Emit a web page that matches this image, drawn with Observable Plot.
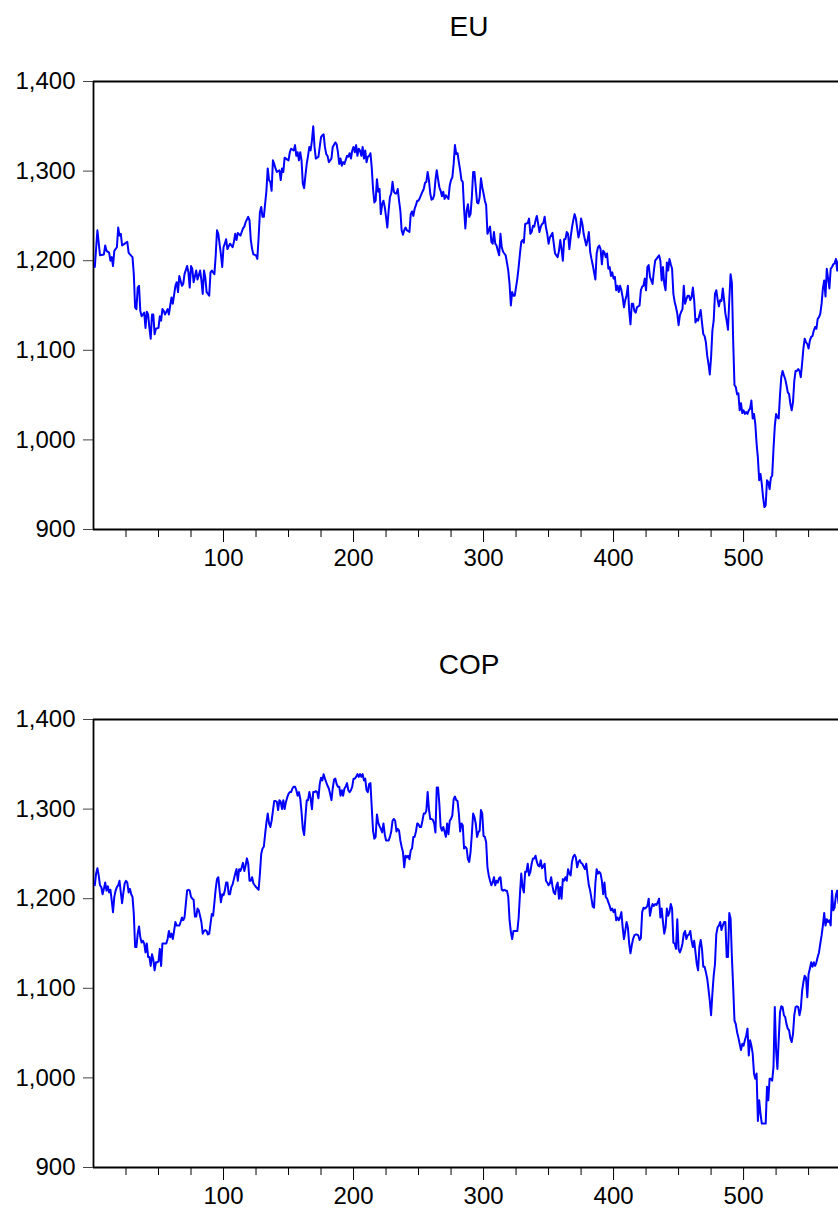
<!DOCTYPE html>
<html>
<head>
<meta charset="utf-8">
<script src="https://cdn.jsdelivr.net/npm/d3@7"></script>
<script src="https://cdn.jsdelivr.net/npm/@observablehq/plot@0.6"></script>
<style>
  html, body { margin: 0; padding: 0; background: #fff; overflow: hidden; }
  #chart svg { display: block; }
</style>
</head>
<body>
<div id="chart"></div>
<script>
// Panel titles
const titles = ["EU", "COP"];

// Axis ticks
const yTicks = [900, 1000, 1100, 1200, 1300, 1400];
const xMajorTicks = [100, 200, 300, 400, 500];
const xMinorTicks = [25, 50, 75, 125, 150, 175, 225, 250, 275, 325, 350, 375, 425, 450, 475, 525, 550];

// EU series: observation number and value
const euObs = [1,3,5,8,9,10,12,13,14,15,16,18,19,20,21,22,24,26,27,28,30,31,32,33,34,35,36,37,39,40,41,42,43,44,45,46,47,48,50,51,52,53,54,55,57,58,59,60,61,63,64,65,66,68,69,70,72,73,74,75,76,77,79,80,82,83,84,85,86,87,89,90,91,93,94,95,96,98,99,100,101,102,103,
105,107,108,109,110,111,113,114,115,116,117,119,120,121,122,123,125,126,127,128,129,130,131,133,134,135,136,137,138,139,140,141,143,144,145,146,147,148,150,151,152,154,155,156,157,158,159,160,161,162,163,164,165,166,167,168,169,170,171,173,174,175,176,177,178,179,180,181,182,183,184,186,187,188,189,190,191,192,193,195,196,197,198,199,200,201,202,203,204,205,206,207,208,209,210,211,212,213,214,215,216,
217,218,219,220,221,222,223,224,225,226,227,228,229,230,231,232,233,234,235,236,237,238,239,240,241,243,244,245,246,247,248,249,250,251,253,254,255,256,257,258,259,260,261,262,263,264,265,266,267,268,269,270,271,273,274,275,276,277,278,279,280,281,282,283,284,285,286,287,288,289,290,291,292,293,294,295,296,297,298,299,300,301,302,303,304,305,306,307,308,309,310,311,312,313,314,315,316,317,318,319,320,321,322,323,324,326,327,328,
329,330,331,332,334,335,336,337,338,339,340,341,342,343,344,345,346,347,348,349,350,351,353,354,355,356,357,358,359,360,361,362,363,364,365,366,367,368,369,370,371,373,374,375,376,377,378,379,380,381,382,383,384,385,386,387,388,389,390,391,392,393,394,395,396,397,398,399,400,401,402,403,404,405,406,407,408,409,410,411,412,413,414,415,416,417,418,419,420,421,422,423,424,425,426,427,428,429,430,431,432,433,434,435,436,437,438,439,440,441,442,443,
444,445,446,447,448,449,450,451,452,453,454,455,456,457,458,459,460,461,462,463,464,465,466,467,468,469,470,471,472,473,474,475,476,477,478,479,480,481,482,483,484,485,486,487,488,489,490,491,492,493,494,495,496,497,498,499,500,501,502,503,504,505,506,507,508,509,510,511,512,513,514,515,516,517,518,519,520,521,522,523,524,525,526,527,528,529,530,531,532,533,534,535,536,537,538,539,540,541,542,543,544,545,546,547,548,549,550,551,552,553,554,555,556,557,558,559,560,561,562,563,564,565,566,567,568,569,570,571,572,573];
const euValue = [1193,1234,1206,1207,1217,1211,1209,1200,1204,1194,1211,1215,1237,1228,1230,1217,1219,1221,1209,1207,1204,1185,1148,1146,1170,1172,1144,1138,1142,1125,1143,1140,1125,1113,1140,1140,1118,1124,1125,1138,1133,1146,1144,1140,1146,1140,1150,1159,1152,1172,1176,1165,1183,1172,1174,1185,1194,1187,1170,1194,1191,1176,1189,1179,1189,1178,1163,1189,1181,1165,1161,1187,1189,1185,1206,1234,1230,1207,1193,1215,1219,1224,1213,
1219,1215,1221,1230,1223,1231,1228,1232,1236,1238,1243,1249,1245,1223,1213,1207,1206,1202,1226,1254,1260,1249,1249,1278,1303,1290,1288,1278,1312,1308,1303,1299,1301,1290,1303,1299,1315,1314,1312,1321,1325,1323,1329,1317,1321,1312,1321,1312,1286,1281,1295,1308,1317,1327,1323,1334,1350,1327,1314,1316,1327,1338,1340,1341,1327,1319,1317,1310,1312,1314,1327,1332,1330,1321,1308,1314,1306,1310,1308,1317,1316,1320,1314,1323,1327,1321,1329,1317,1325,1323,1317,1327,1314,1323,1310,1316,1317,1320,1304,1280,1265,
1267,1291,1277,1280,1252,1263,1267,1260,1249,1237,1256,1271,1275,1288,1277,1275,1275,1280,1267,1256,1234,1229,1234,1237,1234,1232,1252,1255,1250,1258,1262,1267,1267,1270,1277,1280,1287,1288,1299,1290,1275,1268,1269,1273,1290,1301,1291,1282,1278,1272,1277,1269,1273,1269,1284,1290,1293,1308,1329,1319,1320,1310,1301,1290,1288,1258,1236,1256,1263,1249,1252,1271,1299,1299,1282,1265,1264,1271,1292,1282,1275,1267,1262,1230,1234,1238,1221,1219,1232,1219,1217,1211,1206,1230,1215,1210,1208,1206,1198,1189,1174,1150,1165,1161,1161,1180,1193,1208,
1221,1223,1220,1241,1242,1247,1230,1232,1239,1238,1245,1250,1241,1232,1238,1241,1242,1249,1237,1230,1219,1226,1231,1219,1208,1206,1204,1211,1223,1213,1200,1224,1224,1232,1230,1213,1226,1237,1245,1252,1247,1226,1232,1247,1241,1230,1223,1217,1223,1232,1210,1202,1195,1187,1179,1208,1215,1217,1213,1196,1211,1209,1204,1208,1191,1193,1183,1187,1180,1182,1167,1172,1165,1172,1167,1159,1148,1156,1161,1172,1144,1129,1152,1152,1144,1142,1148,1149,1150,1167,1171,1172,1180,1167,1193,1195,1182,1178,1174,1189,1200,1202,1204,1206,1200,1178,1193,1174,1167,1198,1189,1202,
1196,1191,1163,1154,1148,1141,1128,1139,1143,1146,1172,1152,1157,1161,1161,1156,1159,1170,1156,1131,1135,1133,1139,1145,1131,1118,1116,1109,1094,1085,1073,1092,1122,1133,1163,1167,1157,1149,1156,1155,1169,1156,1141,1133,1123,1156,1185,1175,1110,1061,1059,1051,1052,1033,1041,1030,1033,1029,1031,1029,1033,1035,1044,1024,1029,1018,996,980,955,962,951,936,925,927,955,953,945,958,960,990,1015,1029,1025,1024,1050,1070,1077,1072,1068,1061,1053,1051,1040,1033,1042,1066,1077,1077,1079,1077,1070,1085,1102,1113,1109,1107,1102,1111,1115,1116,1122,1126,1124,1135,1137,1141,1152,1169,1178,1160,1191,1180,1169,1191,1193,1196,1197,1202,1189,1200];

// COP series: observation number and value
const copObs = [1,2,3,4,5,6,7,8,9,10,11,12,13,14,15,16,17,18,19,20,21,22,23,24,25,26,27,28,29,30,31,32,33,34,35,36,37,38,39,40,41,42,43,44,45,46,47,48,49,50,51,52,53,54,55,56,57,58,59,60,61,62,63,64,65,66,67,68,69,70,71,72,73,74,75,76,77,78,79,80,81,83,84,85,86,87,88,89,90,91,92,93,94,95,96,97,98,99,100,101,102,103,104,
105,106,107,109,110,111,112,113,114,115,116,117,118,119,120,121,122,123,124,125,127,128,129,130,131,132,133,134,135,136,137,138,139,140,141,142,143,144,145,146,147,148,149,150,151,152,153,154,155,156,157,158,159,160,161,162,163,164,165,166,167,168,169,170,171,172,173,174,175,176,177,178,179,180,181,182,183,184,185,186,187,188,189,190,191,192,193,194,195,196,197,198,199,200,201,202,203,204,205,206,207,208,209,210,211,212,213,214,215,216,
217,218,219,220,221,222,223,224,225,226,227,228,229,230,231,232,233,234,235,236,237,238,239,240,241,242,243,244,245,246,247,248,249,250,251,252,253,254,255,256,257,258,259,260,261,262,263,264,265,266,267,268,269,270,271,272,273,274,275,276,277,278,279,280,281,282,283,284,285,286,287,288,289,290,291,292,293,294,295,296,297,298,299,300,301,302,303,304,305,306,307,308,309,310,311,312,313,314,315,316,317,318,319,320,321,322,323,324,325,326,327,328,
329,330,331,332,333,334,335,336,337,338,339,340,341,342,343,344,345,346,347,348,349,350,351,352,353,354,355,356,357,358,359,360,361,362,363,364,365,366,367,368,369,370,371,372,373,374,375,376,377,378,379,380,381,382,383,384,385,386,387,388,389,390,391,392,393,394,395,396,397,398,399,400,401,402,403,404,405,406,407,408,409,410,411,412,413,414,415,416,417,418,419,420,421,422,423,424,425,426,427,428,429,430,431,432,433,434,435,436,437,438,439,440,441,442,443,444,
445,446,447,448,449,450,451,452,453,454,455,456,457,458,459,460,461,462,463,464,465,466,467,468,469,470,471,472,473,474,475,476,477,478,479,480,481,482,483,484,485,486,487,488,489,490,491,492,493,494,495,496,497,498,499,500,501,502,503,504,505,506,507,508,509,510,511,512,513,514,515,516,517,518,519,520,521,522,523,524,525,526,527,528,529,530,531,532,533,534,535,536,537,538,539,540,541,542,543,544,545,546,547,548,549,550,551,552,553,554,555,556,557,558,559,560,561,562,563,564,565,566,567,568,569,570,571,572,573];
const copValue = [1215,1228,1234,1226,1215,1213,1205,1211,1218,1209,1214,1207,1210,1198,1185,1202,1209,1213,1215,1220,1207,1195,1207,1217,1220,1218,1207,1211,1205,1202,1183,1146,1146,1161,1169,1157,1151,1153,1150,1140,1150,1135,1135,1125,1138,1132,1120,1129,1129,1130,1144,1125,1150,1150,1150,1150,1155,1164,1157,1161,1155,1164,1174,1170,1170,1170,1174,1179,1176,1179,1194,1209,1210,1209,1202,1200,1199,1180,1180,1189,1187,1174,1161,1164,1165,1164,1160,1161,1172,1183,1181,1196,1211,1222,1224,1209,1196,1205,1204,1209,1218,1218,1205,
1205,1213,1216,1228,1233,1220,1233,1231,1235,1240,1231,1237,1245,1239,1220,1220,1224,1217,1215,1213,1210,1228,1250,1256,1258,1272,1285,1295,1284,1280,1287,1298,1309,1309,1308,1299,1310,1308,1300,1310,1300,1308,1313,1317,1319,1319,1323,1325,1325,1321,1315,1319,1312,1297,1278,1271,1291,1310,1310,1319,1312,1300,1319,1319,1320,1319,1312,1328,1335,1332,1339,1334,1330,1326,1323,1317,1310,1323,1333,1334,1328,1325,1325,1315,1321,1315,1323,1325,1329,1321,1319,1321,1325,1334,1334,1336,1339,1336,1339,1336,1339,1332,1334,1321,1319,1328,1329,1302,1276,1267,
1269,1294,1285,1281,1278,1274,1284,1272,1265,1265,1265,1269,1275,1287,1289,1287,1275,1278,1276,1265,1258,1252,1235,1248,1246,1248,1244,1254,1256,1269,1269,1275,1284,1283,1280,1280,1287,1295,1295,1298,1319,1300,1289,1289,1288,1284,1274,1324,1324,1306,1280,1276,1280,1275,1269,1284,1272,1287,1289,1293,1311,1314,1310,1309,1295,1275,1284,1282,1256,1258,1256,1244,1241,1252,1272,1295,1291,1284,1269,1274,1276,1299,1295,1270,1269,1263,1235,1226,1220,1215,1218,1224,1215,1220,1218,1223,1224,1210,1209,1210,1209,1209,1202,1176,1163,1155,1164,1164,1164,1164,1179,1205,
1228,1213,1207,1230,1230,1239,1226,1230,1239,1245,1245,1248,1241,1237,1236,1243,1234,1236,1239,1220,1218,1215,1217,1224,1214,1207,1205,1214,1218,1200,1213,1200,1222,1220,1224,1220,1233,1228,1226,1241,1247,1249,1246,1235,1241,1243,1240,1239,1236,1233,1239,1226,1215,1209,1200,1191,1190,1217,1233,1228,1230,1228,1220,1205,1218,1202,1200,1196,1192,1187,1189,1185,1188,1176,1179,1176,1179,1185,1168,1155,1164,1174,1168,1150,1139,1148,1155,1159,1160,1160,1159,1154,1156,1185,1190,1189,1190,1192,1200,1181,1189,1194,1192,1194,1193,1196,1200,1179,1189,1174,1161,1168,1189,1181,1185,1194,
1189,1151,1150,1144,1177,1144,1140,1144,1150,1161,1164,1155,1159,1160,1164,1153,1146,1153,1140,1127,1120,1146,1154,1144,1124,1124,1118,1111,1099,1086,1070,1094,1114,1127,1160,1168,1170,1174,1165,1170,1174,1174,1135,1135,1184,1178,1135,1101,1064,1060,1051,1045,1038,1031,1038,1036,1042,1047,1055,1025,1042,1036,1027,1005,999,1005,952,975,960,949,949,949,949,990,975,999,999,997,1012,1079,1031,1010,1042,1073,1080,1079,1070,1068,1060,1055,1053,1044,1040,1049,1070,1079,1080,1079,1070,1077,1097,1107,1114,1112,1090,1116,1122,1129,1124,1129,1125,1129,1135,1140,1150,1159,1170,1184,1170,1177,1174,1176,1170,1209,1187,1190,1204,1209,1195];

const series = [
  {title: titles[0], obs: euObs, value: euValue},
  {title: titles[1], obs: copObs, value: copValue}
];

const font = "'Liberation Sans', Arial, Helvetica, sans-serif";
const tickFontSize = 24;
const titleFontSize = 28;

function panel({title, obs, value}) {
  const rows = obs.map((o, i) => ({obs: o, value: value[i]}));
  return Plot.plot({
    width: 838,
    height: 638,
    marginLeft: 93,
    marginRight: 0,
    marginTop: 81,
    marginBottom: 109,
    style: {fontFamily: font, fontSize: `${tickFontSize}px`, color: "#000", background: "#fff", overflow: "hidden"},
    x: {type: "linear", domain: [0, 573]},
    y: {type: "linear", domain: [900, 1400]},
    marks: [
      // y axis: outward ticks with thousands separators
      Plot.axisY(yTicks, {anchor: "left", label: null, tickSize: 10, tickPadding: 8, tickFormat: d3.format(","), stroke: "#444", fontSize: tickFontSize}),
      // x axis: labelled ticks every 100, short ticks every 25
      Plot.axisX(xMajorTicks, {anchor: "bottom", label: null, tickSize: 13, tickPadding: 6, tickFormat: d3.format("d"), fontSize: tickFontSize}),
      Plot.axisX(xMinorTicks, {anchor: "bottom", label: null, tickSize: 8, tickFormat: () => ""}),
      // frame: left, top and bottom edges
      Plot.ruleX([0], {stroke: "#000", strokeWidth: 1.8}),
      Plot.ruleY([1400, 900], {stroke: "#000", strokeWidth: 1.8}),
      Plot.line(rows, {x: "obs", y: "value", stroke: "#0000ff", strokeWidth: 2, clip: true}),
      // panel title centred over the plot area
      Plot.text([title], {frameAnchor: "top", lineAnchor: "middle", dy: -54, dx: 3, fontSize: titleFontSize, fill: "#000"})
    ]
  });
}

const root = document.getElementById("chart");
for (const s of series) root.appendChild(panel(s));
</script>
</body>
</html>
